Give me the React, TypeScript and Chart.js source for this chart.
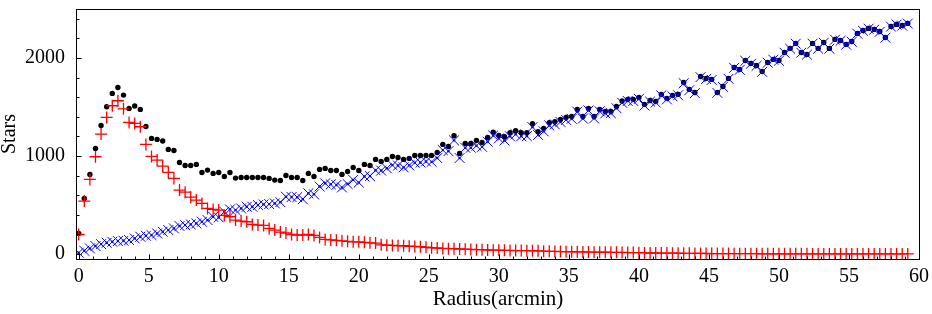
import React, { useEffect, useRef } from 'react';
import { Chart, registerables } from 'chart.js';

Chart.register(...registerables);

// Radial bins (arcmin)
const radius = [
  0.0, 0.4, 0.8, 1.2, 1.6, 2.0, 2.4, 2.8, 3.2, 3.6, 4.0, 4.4, 4.8, 5.2, 5.6, 6.0, 6.4, 6.8, 7.2, 7.6,
  8.0, 8.4, 8.8, 9.2, 9.6, 10.0, 10.4, 10.8, 11.2, 11.6, 12.0, 12.4, 12.8, 13.2, 13.6, 14.0, 14.4, 14.8, 15.2, 15.6,
  16.0, 16.4, 16.8, 17.2, 17.6, 18.0, 18.4, 18.8, 19.2, 19.6, 20.0, 20.4, 20.8, 21.2, 21.6, 22.0, 22.4, 22.8, 23.2, 23.6,
  24.0, 24.4, 24.8, 25.2, 25.6, 26.0, 26.4, 26.8, 27.2, 27.6, 28.0, 28.4, 28.8, 29.2, 29.6, 30.0, 30.4, 30.8, 31.2, 31.6,
  32.0, 32.4, 32.8, 33.2, 33.6, 34.0, 34.4, 34.8, 35.2, 35.6, 36.0, 36.4, 36.8, 37.2, 37.6, 38.0, 38.4, 38.8, 39.2, 39.6,
  40.0, 40.4, 40.8, 41.2, 41.6, 42.0, 42.4, 42.8, 43.2, 43.6, 44.0, 44.4, 44.8, 45.2, 45.6, 46.0, 46.4, 46.8, 47.2, 47.6,
  48.0, 48.4, 48.8, 49.2, 49.6, 50.0, 50.4, 50.8, 51.2, 51.6, 52.0, 52.4, 52.8, 53.2, 53.6, 54.0, 54.4, 54.8, 55.2, 55.6,
  56.0, 56.4, 56.8, 57.2, 57.6, 58.0, 58.4, 58.8, 59.2,
];

// All stars (black dots)
const totalStars = [
  211, 568, 813, 1078, 1312, 1503, 1639, 1700, 1622, 1486, 1510, 1476, 1302, 1180, 1170, 1153, 1068, 1057, 935, 904,
  904, 915, 833, 857, 823, 833, 792, 833, 775, 782, 782, 782, 782, 782, 772, 755, 751, 802, 782, 782,
  751, 823, 792, 864, 874, 853, 853, 813, 843, 884, 853, 915, 904, 966, 945, 966, 996, 986, 966, 976,
  1006, 1006, 1006, 1006, 1037, 1119, 1098, 1207, 1027, 1129, 1129, 1159, 1139, 1190, 1244, 1210, 1197, 1238, 1258, 1238,
  1238, 1329, 1248, 1282, 1340, 1350, 1374, 1394, 1404, 1476, 1404, 1486, 1404, 1476, 1455, 1455, 1506, 1561, 1578, 1578,
  1598, 1527, 1567, 1557, 1629, 1588, 1618, 1629, 1751, 1680, 1649, 1812, 1792, 1782, 1649, 1710, 1792, 1904, 1884, 1975,
  1945, 1924, 1863, 1955, 1986, 1975, 2057, 2098, 2149, 2057, 2037, 2149, 2098, 2159, 2098, 2190, 2179, 2139, 2169, 2251,
  2281, 2302, 2292, 2271, 2210, 2322, 2343, 2332, 2353,
];

// Cluster members (red +)
const clusterStars = [
  200, 541, 762, 993, 1224, 1394, 1513, 1564, 1482, 1343, 1333, 1299, 1119, 996, 959, 898, 833, 772, 653, 632,
  581, 551, 517, 466, 456, 449, 394, 381, 347, 337, 330, 303, 296, 292, 262, 245, 225, 215, 200, 195,
  195, 200, 190, 170, 150, 145, 140, 135, 130, 125, 125, 120, 115, 112, 95, 90, 88, 85, 85, 80,
  78, 75, 70, 65, 62, 58, 55, 55, 52, 50, 48, 45, 45, 42, 40, 40, 38, 37, 36, 36,
  35, 34, 33, 30, 28, 27, 26, 25, 24, 23, 22, 21, 20, 20, 19, 18, 18, 17, 16, 16,
  15, 12, 11, 11, 10, 10, 9, 9, 8, 8, 7, 7, 6, 5, 5, 5, 5, 4, 4, 4,
  4, 4, 3, 3, 3, 3, 3, 3, 3, 3, 3, 2, 2, 2, 2, 2, 2, 2, 2, 2,
  2, 2, 2, 2, 2, 2, 2, 2, 2,
];

// Field stars (blue x)
const fieldStars = [
  14, 34, 58, 82, 102, 116, 126, 133, 136, 143, 160, 177, 187, 194, 211, 228, 245, 262, 286, 296,
  303, 313, 330, 347, 381, 374, 432, 456, 449, 466, 483, 483, 500, 507, 510, 517, 530, 585, 582, 580,
  560, 620, 610, 690, 722, 712, 705, 680, 715, 757, 730, 792, 795, 855, 852, 875, 908, 903, 885, 905,
  932, 935, 945, 941, 980, 1061, 1050, 1160, 980, 1085, 1085, 1105, 1094, 1147, 1210, 1180, 1159, 1201, 1222, 1202,
  1203, 1295, 1215, 1252, 1312, 1323, 1348, 1369, 1380, 1453, 1382, 1465, 1384, 1456, 1436, 1437, 1488, 1544, 1562, 1562,
  1583, 1515, 1556, 1546, 1619, 1578, 1609, 1620, 1743, 1672, 1642, 1805, 1786, 1777, 1645, 1706, 1788, 1900, 1880, 1971,
  1941, 1920, 1859, 1952, 1983, 1972, 2054, 2095, 2146, 2054, 2034, 2146, 2095, 2156, 2095, 2187, 2176, 2136, 2166, 2248,
  2278, 2299, 2289, 2268, 2207, 2320, 2341, 2330, 2351,
];

const xTickValues = [0, 5, 10, 15, 20, 25, 30, 35, 40, 45, 50, 55, 60];
const yTickValues = [0, 1000, 2000];
const xMinorStep = 1;
const yMinorStep = 200;

const FONT = "'Liberation Serif', 'DejaVu Serif', serif";

function toPoints(values: number[]) {
  return radius.map((x, i) => ({ x, y: values[i] }));
}

const framePlugin = {
  id: 'frameTicks',
  afterDatasetsDraw(chart: any) {
    const { ctx, chartArea, scales } = chart;
    const { left, right, top, bottom } = chartArea;
    const xs = scales.x;
    const ys = scales.y;
    ctx.save();
    ctx.strokeStyle = '#000';
    ctx.lineWidth = 1;
    ctx.beginPath();
    for (let v = 0; v <= xs.max + 1e-9; v += xMinorStep) {
      const px = Math.round(xs.getPixelForValue(v)) + 0.5;
      const len = Math.abs(v % 5) < 1e-9 ? 4.5 : 2.5;
      ctx.moveTo(px, bottom);
      ctx.lineTo(px, bottom - len);
    }
    for (let v = 0; v <= ys.max + 1e-9; v += yMinorStep) {
      const py = Math.round(ys.getPixelForValue(v)) + 0.5;
      const len = Math.abs(v % 1000) < 1e-9 ? 4.5 : 2.5;
      ctx.moveTo(left, py);
      ctx.lineTo(left + len, py);
    }
    ctx.stroke();
    ctx.strokeRect(Math.round(left) - 0.5, Math.round(top) + 0.5, Math.round(right - left) + 1, Math.round(bottom - top));
    ctx.restore();
  },
};

export default function App() {
  const canvasRef = useRef<HTMLCanvasElement | null>(null);

  useEffect(() => {
    document.body.style.margin = '0';
    const canvas = canvasRef.current;
    if (!canvas) return;
    const chart = new Chart(canvas, {
      type: 'scatter',
      data: {
        datasets: [
          {
            label: 'Cluster',
            data: toPoints(clusterStars),
            pointStyle: 'cross',
            pointRadius: 6,
            borderColor: '#ff0000',
            backgroundColor: '#ff0000',
            borderWidth: 1.3,
            order: 0,
          },
          {
            label: 'Field centre',
            data: toPoints(fieldStars),
            pointStyle: 'circle',
            pointRadius: 1.2,
            borderWidth: 0,
            backgroundColor: '#0000ff',
            borderColor: '#0000ff',
            order: 1,
          },
          {
            label: 'Field',
            data: toPoints(fieldStars),
            pointStyle: 'crossRot',
            pointRadius: 7,
            borderColor: '#0000ff',
            backgroundColor: '#0000ff',
            borderWidth: 1,
            order: 2,
          },
          {
            label: 'Total',
            data: toPoints(totalStars),
            pointStyle: 'circle',
            pointRadius: 2.7,
            borderWidth: 0,
            backgroundColor: '#000000',
            borderColor: '#000000',
            order: 3,
          },
        ],
      },
      options: {
        responsive: false,
        animation: false,
        devicePixelRatio: 1,
        events: [],
        layout: { padding: { left: 0, right: 13, top: 9, bottom: 0 } },
        plugins: {
          legend: { display: false },
          tooltip: { enabled: false },
        },
        scales: {
          x: {
            type: 'linear',
            min: -0.12,
            max: 60,
            grid: { display: false, drawTicks: false },
            border: { display: false },
            afterBuildTicks: (scale: any) => {
              scale.ticks = xTickValues.map((v) => ({ value: v }));
            },
            afterFit: (scale: any) => {
              scale.height = 55;
              scale.paddingLeft = 0;
              scale.paddingRight = 0;
            },
            ticks: {
              color: '#000',
              font: { family: FONT, size: 20 },
              padding: 6,
              maxRotation: 0,
              autoSkip: false,
              callback: (v: any) => String(v),
            },
            title: {
              display: true,
              text: 'Radius(arcmin)',
              color: '#000',
              font: { family: FONT, size: 21, lineHeight: 1.2 },
              padding: { top: 0, bottom: 1.5 },
            },
          },
          y: {
            type: 'linear',
            min: -50,
            max: 2500,
            grid: { display: false, drawTicks: false },
            border: { display: false },
            afterBuildTicks: (scale: any) => {
              scale.ticks = yTickValues.map((v) => ({ value: v }));
            },
            afterFit: (scale: any) => {
              scale.width = 77;
              scale.paddingTop = 0;
              scale.paddingBottom = 0;
            },
            ticks: {
              color: '#000',
              font: { family: FONT, size: 20 },
              padding: 12,
              autoSkip: false,
              callback: (v: any) => String(v),
            },
            title: {
              display: true,
              text: 'Stars',
              color: '#000',
              font: { family: FONT, size: 20, lineHeight: 1.0 },
              padding: { top: 0, bottom: 0 },
            },
          },
        },
      },
      plugins: [framePlugin],
    });
    return () => chart.destroy();
  }, []);

  return (
    <div style={{ position: 'absolute', left: 0, top: 0, width: 932, height: 314, background: '#fff' }}>
      <canvas ref={canvasRef} width={932} height={314} style={{ width: 932, height: 314, display: 'block' }} />
    </div>
  );
}
